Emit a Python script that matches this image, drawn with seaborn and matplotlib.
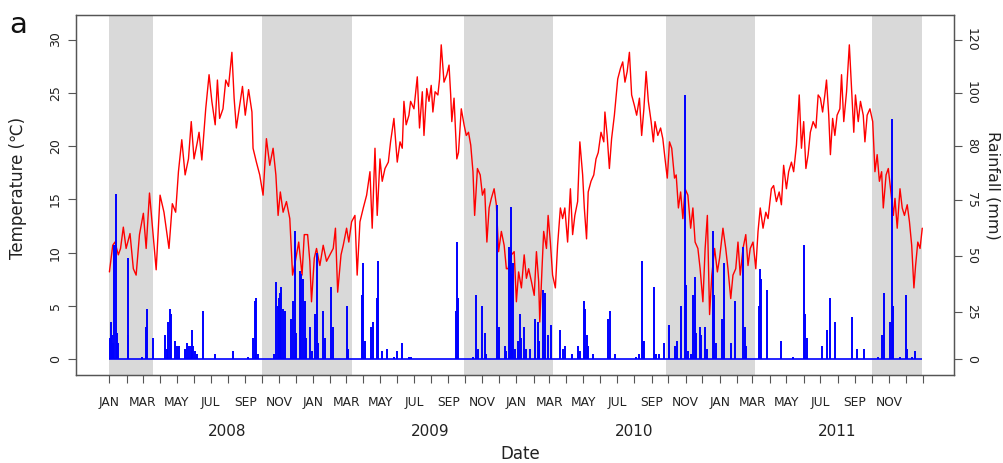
import numpy as np
import pandas as pd
import matplotlib
matplotlib.use("Agg")
import matplotlib.pyplot as plt
import matplotlib.transforms as mtransforms
import seaborn as sns

# ---------------- data ----------------
START = "2008-01-01"
END = "2011-12-31"

# daily temperature samples: day offset from START, value in deg C
temp_day = [0, 6, 10, 16, 20, 25, 30, 37, 43, 48, 54, 61, 66, 72, 78, 84, 91, 98, 102, 107, 113, 119, 124, 130,
            136, 142, 147, 152, 158, 161, 166, 173, 179, 184, 190, 194, 198, 204, 209, 214, 220, 224, 228, 233,
            239, 244, 250, 256, 258, 264, 270, 276, 282, 288, 294, 299, 303, 307, 312, 318, 324, 329, 334, 340,
            346, 350,
            356, 360, 363, 368, 372, 378, 384, 390, 396, 402, 406, 410, 416, 420, 426, 430, 435, 441, 445, 450,
            456, 462, 468, 472, 477, 481, 486, 490, 495, 501, 505, 511, 517, 522, 526, 529, 533, 538, 541, 547,
            553, 557, 562, 565, 570, 574, 578, 581, 585, 590, 593, 596, 601, 606, 610, 613, 615, 619, 624, 627,
            632, 637, 641, 645, 649, 653, 656, 661, 666, 670, 674, 678, 682, 686, 691, 695, 699, 704, 709, 713,
            716, 722, 727, 731, 735, 740, 745, 749, 753, 758, 763, 767, 771, 773, 777, 780, 785, 788, 792, 796,
            801, 805, 810, 814, 818, 823, 828, 832, 836, 841, 845, 850, 853, 857, 860, 865, 870, 874, 878, 883,
            888, 890, 894, 898, 902, 907, 913, 918, 922, 926, 930, 934, 938, 943, 947, 952, 956, 960, 964, 968,
            973, 977, 980, 985, 990, 994, 998, 1002, 1006, 1010, 1015, 1018, 1022, 1026, 1030, 1034, 1039, 1044,
            1048, 1052, 1057, 1061, 1066, 1070, 1074, 1078,
            1082, 1087, 1092, 1096, 1102, 1107, 1111, 1116, 1120, 1125, 1129, 1133, 1138, 1143, 1147, 1151, 1156,
            1161, 1165, 1169, 1174, 1179, 1183, 1189, 1193, 1198, 1203, 1207, 1211, 1216, 1220, 1225, 1229, 1234,
            1239, 1243, 1247, 1251, 1255, 1259, 1264, 1269, 1273, 1277, 1281, 1285, 1288, 1292, 1295, 1299, 1303,
            1307, 1312, 1315, 1319, 1324, 1329, 1333, 1337, 1340, 1345, 1349, 1354, 1357, 1361, 1366, 1371, 1375,
            1379, 1383, 1387, 1390, 1395, 1399, 1403, 1408, 1411, 1415, 1420, 1424, 1428, 1433, 1437, 1441, 1445,
            1448, 1452, 1456, 1460]
temp_c = [8.2, 10.7, 11.0, 9.8, 10.4, 12.4, 10.4, 11.8, 8.5, 7.9, 11.7, 13.7, 10.4, 15.6, 12.0, 8.4, 15.4, 13.8,
          12.3, 10.4, 14.6, 13.8, 17.6, 20.6, 17.3, 18.8, 22.3, 18.8, 20.4, 21.3, 18.7, 23.5, 26.7, 24.2, 22.0,
          26.2, 22.6, 23.5, 26.2, 25.6, 28.8, 24.5, 21.7, 23.5, 25.6, 22.9, 25.3, 23.2, 19.8, 18.5, 17.3, 15.4,
          20.7, 18.2, 19.8, 17.3, 13.5, 15.7, 13.8, 14.8, 13.2, 7.9, 9.2, 11.0, 7.9, 11.7,
          11.7, 9.2, 5.4, 9.5, 10.4, 8.8, 10.7, 9.2, 9.8, 10.4, 12.3, 6.3, 9.8, 10.7, 12.3, 11.0, 12.9, 13.5, 7.9,
          12.9, 14.2, 15.4, 17.6, 12.3, 19.8, 13.5, 18.8, 16.7, 17.9, 18.5, 20.4, 22.6, 18.5, 20.4, 19.8, 24.2,
          22.0, 22.9, 24.2, 23.5, 26.5, 21.7, 25.1, 21.0, 25.4, 24.2, 25.7, 23.2, 25.1, 24.8, 26.3, 29.5, 26.0,
          26.7, 27.6, 24.8, 22.3, 24.5, 18.8, 19.4, 23.5, 22.0, 21.0, 21.3, 20.1, 17.6, 13.5, 17.9, 17.3, 15.4,
          16.0, 11.0, 14.2, 15.1, 16.0, 14.5, 10.1, 12.0, 10.7, 8.5,
          8.5, 9.8, 10.1, 5.4, 8.2, 6.7, 9.8, 7.6, 8.5, 7.3, 6.0, 10.1, 7.3, 3.5, 8.5, 12.0, 10.4, 13.5, 11.0,
          7.9, 6.7, 10.7, 14.2, 13.2, 14.2, 11.0, 16.0, 11.7, 13.5, 14.8, 20.4, 17.3, 14.2, 11.3, 15.7, 16.7,
          17.3, 18.8, 19.4, 21.3, 20.4, 23.2, 21.0, 17.9, 20.7, 22.9, 26.3, 27.3, 27.9, 26.0, 27.0, 28.8, 24.8,
          23.8, 22.9, 24.5, 21.0, 23.5, 27.0, 24.2, 22.3, 20.4, 22.3, 21.0, 21.7, 20.7, 18.8, 17.0, 20.4, 19.8,
          17.0, 17.3, 14.2, 15.7, 13.2, 16.0, 15.4, 12.3, 14.2, 11.0, 10.4, 8.5, 5.4, 10.4, 13.5, 4.2,
          7.9, 10.4, 8.2, 9.5, 12.3, 10.4, 8.5, 5.7, 7.9, 8.5, 11.0, 7.9, 10.4, 11.7, 8.8, 10.4, 11.0, 8.5, 12.0,
          14.2, 12.3, 13.8, 13.2, 16.0, 16.3, 14.8, 15.7, 14.5, 18.2, 16.0, 17.6, 18.5, 17.6, 20.1, 24.8, 19.8,
          22.3, 17.9, 19.2, 21.3, 22.3, 21.7, 24.8, 24.5, 23.2, 24.8, 26.2, 22.9, 19.2, 22.6, 21.0, 22.9, 23.5,
          26.7, 22.3, 25.1, 29.5, 25.4, 21.3, 24.8, 22.3, 24.2, 22.9, 20.4, 22.9, 23.5, 22.3, 17.6, 19.2, 16.7,
          17.6, 14.2, 17.3, 17.9, 16.0, 13.5, 15.1, 12.3, 16.0, 14.2, 13.5, 14.5, 12.9, 10.7, 6.7, 8.8, 11.0,
          10.4, 12.3]

# daily rainfall events: day offset from START, amount in mm
rain_day = [1, 2, 4, 6, 9, 12, 14, 16, 33, 34, 58, 66, 68, 78, 100, 103, 106, 108, 110, 118, 121, 125, 136, 140,
            143, 146, 148, 150, 154, 158, 168, 189, 222, 249, 258, 261, 264, 267, 295, 300, 302, 304, 306, 309,
            311, 316, 327, 330, 333, 336, 342, 345, 348, 351, 354, 360, 363,
            369, 372, 375, 384, 388, 398, 401, 426, 429, 453, 456, 459, 470, 473, 480, 483, 490, 498, 511, 517,
            525, 538, 542, 622, 624, 626, 653, 659, 662, 670, 674, 677, 697, 700, 710, 712, 717, 719, 721, 723,
            725, 729, 733,
            737, 740, 745, 748, 755, 765, 769, 772, 779, 783, 787, 793, 809, 815, 819, 831, 842, 845, 852, 855,
            857, 859, 869, 896, 900, 909, 946, 952, 956, 958, 961, 979, 982, 988, 996, 1006, 1015, 1020, 1026,
            1033, 1035, 1040, 1044, 1048, 1051, 1054, 1060, 1063, 1069, 1074, 1084, 1086, 1090,
            1101, 1104, 1116, 1123, 1138, 1141, 1144, 1167, 1168, 1171, 1181, 1207, 1228, 1248, 1250, 1253, 1280,
            1288, 1294, 1304, 1334, 1342, 1356, 1381, 1387, 1392, 1402, 1405, 1407, 1420, 1431, 1432, 1441, 1447]
rain_mm = [8, 14, 9, 6, 43, 62, 10, 6, 38, 9, 1, 12, 19, 8, 9, 4, 14, 19, 17, 7, 5, 5, 4, 6,
           5, 5, 11, 5, 3, 2, 18, 2, 3, 1, 8, 22, 23, 2, 2, 29, 20, 23, 25, 27,
           19, 18, 15, 22, 48, 10, 33, 32, 30, 22, 8, 12, 3,
           17, 40, 6, 18, 8, 27, 12, 20, 4, 24, 36, 7, 12, 14, 23, 37, 3, 4, 1, 3,
           6, 1, 1, 18, 44, 23, 1, 24, 4, 20, 10, 2, 58, 12, 5, 3, 42, 40, 57, 32,
           36, 4, 7,
           17, 8, 12, 4, 4, 15, 14, 7, 26, 25, 9, 13, 11, 4, 5, 2, 5, 3, 22, 19,
           9, 5, 2, 15, 18, 2, 1, 2, 37, 7, 7, 27, 2, 2, 6, 13, 5, 7, 20,
           99, 28, 3, 2, 24, 31, 10, 12, 9, 12, 4, 48, 24, 6,
           15, 36, 6, 22, 42, 12, 5, 20, 34, 30, 26, 7, 1, 43, 17, 8, 5,
           11, 23, 14, 16, 4, 4, 1, 9, 25, 14, 90, 20, 1, 24, 4, 1, 3]

# shaded (cool-season) periods
shade_start = ["2008-01-01", "2008-10-01", "2009-09-28", "2010-09-27", "2011-10-01"]
shade_end = ["2008-03-19", "2009-03-12", "2010-03-08", "2011-03-06", "2011-12-31"]

month_labels = ["JAN", "FEB", "MAR", "APR", "MAY", "JUN", "JUL", "AUG", "SEP", "OCT", "NOV", "DEC"]
years = ["2008", "2009", "2010", "2011"]
temp_ticks = [0, 5, 10, 15, 20, 25, 30]
rain_tick_labels = ["0", "25", "50", "75", "80", "100", "120"]

# ---------------- figure ----------------
sns.set_theme(style="white")
plt.rcParams["font.family"] = ["DejaVu Sans"]

EDGE = "#555555"
TXT = "#222222"
fig = plt.figure(figsize=(10.04, 4.63), dpi=100)
ax = fig.add_axes([76 / 1004, 1 - 375 / 463, 878 / 1004, 360 / 463])

t0 = pd.Timestamp(START)
temp_df = pd.DataFrame({"date": t0 + pd.to_timedelta(temp_day, unit="D"), "temp": temp_c})
rain_df = pd.DataFrame({"date": t0 + pd.to_timedelta(rain_day, unit="D"), "rain": rain_mm})

for s, e in zip(shade_start, shade_end):
    ax.axvspan(pd.Timestamp(s), pd.Timestamp(e), color="#d9d9d9", lw=0, zorder=0)

sns.lineplot(data=temp_df, x="date", y="temp", color="#ff0000", lw=1.0, ax=ax, zorder=2)

ylo, yhi = -1.47, 32.3
ax.set_ylim(ylo, yhi)
ax.set_xlim(t0 - pd.Timedelta(days=60), pd.Timestamp(END) + pd.Timedelta(days=57))

# rainfall on a twin axis (4 mm per temperature unit)
ax2 = ax.twinx()
ax2.set_ylim(ylo * 4, yhi * 4)
ax2.hlines(0, rain_df["date"].min() - pd.Timedelta(days=1), pd.Timestamp(END), color="#0000ff", lw=1.2)
ax2.vlines(rain_df["date"], 0, rain_df["rain"], color="#0000ff", lw=1.4)

for a in (ax, ax2):
    for sp in a.spines.values():
        sp.set_color(EDGE)
        sp.set_linewidth(0.9)
    a.grid(False)

ax.set_xlabel("")
ax.set_ylabel("")
ax.set_yticks(temp_ticks)
ax.set_yticklabels([str(t) for t in temp_ticks], rotation=90, va="center", fontsize=9, color=TXT)
ax.tick_params(axis="y", direction="out", length=6, width=0.8, color=EDGE, pad=4, left=True)

# x ticks: every month, labels every other month
ticks = pd.date_range(START, "2012-01-01", freq="MS")
labels = []
for d in ticks:
    if d.month % 2 == 1 and d < pd.Timestamp("2012-01-01"):
        labels.append(month_labels[d.month - 1])
    else:
        labels.append("")
ax.set_xticks(ticks)
ax.set_xticklabels(labels, fontsize=8.8, color=TXT)
ax.tick_params(axis="x", direction="out", length=6, width=0.8, color=EDGE, pad=9, bottom=True)

# right axis with its own labels
rain_tick_pos = [0, 17.6, 38.6, 59.7, 80, 100, 120]
ax2.set_yticks(rain_tick_pos)
ax2.set_yticklabels(rain_tick_labels, rotation=-90, va="center", fontsize=9, color=TXT)
ax2.tick_params(axis="y", direction="out", length=6, width=0.8, color=EDGE, pad=2, right=True)

# year labels
trans = mtransforms.blended_transform_factory(ax.transData, fig.transFigure)
for y in years:
    ax.text(pd.Timestamp(f"{y}-07-31"), 1 - 431 / 463, y, transform=trans, ha="center", va="center",
            fontsize=11, color=TXT)

fig.text(520 / 1004, 1 - 454 / 463, "Date", ha="center", va="center", fontsize=12, color=TXT)
fig.text(18 / 1004, 1 - 188 / 463, "Temperature (\u2103)", rotation=90, ha="center", va="center",
         fontsize=12, color=TXT)
fig.text(993 / 1004, 1 - 185 / 463, "Rainfall (mm)", rotation=-90, ha="center", va="center",
         fontsize=11.5, color=TXT)
fig.text(18 / 1004, 1 - 25 / 463, "a", ha="center", va="center", fontsize=21, color="#111111")

fig.savefig("out.png", dpi=100, facecolor="white")
